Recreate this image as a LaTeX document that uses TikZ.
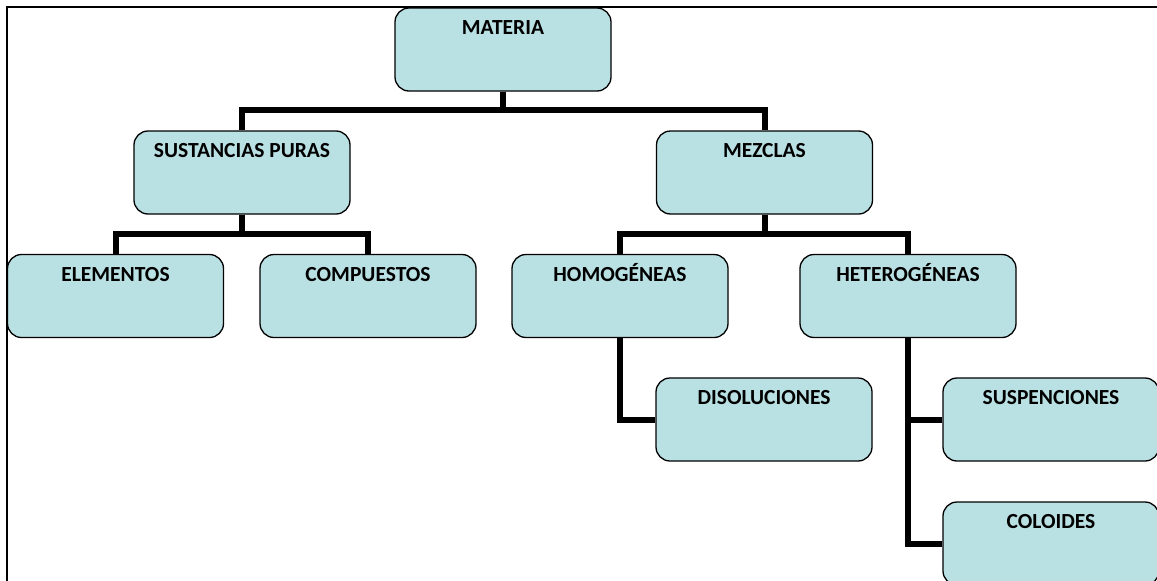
\documentclass[tikz,border=0pt]{standalone}
\usepackage{fontspec}
\setmainfont{Carlito}
\definecolor{boxfill}{RGB}{185,224,227}
\begin{document}
\begin{tikzpicture}[x=1pt,y=-1pt,
  box/.style={draw=black, line width=1.3pt, fill=boxfill, rounded corners=14pt,
    minimum width=216pt, minimum height=83pt, inner sep=0pt},
  lbl/.style={anchor=north, inner sep=0pt, text height=13.2pt, text depth=0pt,
    font=\fontsize{21.5}{24}\selectfont\bfseries, yshift=-14pt},
  conn/.style={draw=black, line width=6pt, line join=miter}]
\useasboundingbox (0,0) rectangle (1157,581);
\clip (0,0) rectangle (1157,581);
\draw[line width=2.2pt] (7,600) -- (7,7) -- (1170,7);
\coordinate (b1) at (0,110);
\coordinate (b2) at (0,234);
\node[box, label={[lbl]north:MATERIA}] (mat) at (503,49.5) {};
\node[box, label={[lbl]north:SUSTANCIAS PURAS}] (sp) at (242,172.5) {};
\node[box, label={[lbl]north:MEZCLAS}] (mez) at (764.5,172.5) {};
\node[box, label={[lbl]north:ELEMENTOS}] (ele) at (115.5,296) {};
\node[box, label={[lbl]north:COMPUESTOS}] (comp) at (368,296) {};
\node[box, label={[lbl]north:HOMOGÉNEAS}] (hom) at (620,296) {};
\node[box, label={[lbl]north:HETEROGÉNEAS}] (het) at (908,296) {};
\node[box, label={[lbl]north:DISOLUCIONES}] (dis) at (764,419.5) {};
\node[box, label={[lbl]north:SUSPENCIONES}] (susp) at (1051,419.5) {};
\node[box, label={[lbl]north:COLOIDES}] (col) at (1051,543.5) {};
\draw[conn] (mat.south) -- (mat.south |- b1);
\draw[conn] (sp.north) -- (sp.north |- b1) -- (mez.north |- b1) -- (mez.north);
\draw[conn] (sp.south) -- (sp.south |- b2);
\draw[conn] (ele.north) -- (ele.north |- b2) -- (comp.north |- b2) -- (comp.north);
\draw[conn] (mez.south) -- (mez.south |- b2);
\draw[conn] (hom.north) -- (hom.north |- b2) -- (het.north |- b2) -- (het.north);
\draw[conn] (hom.south) |- (dis.west);
\draw[conn] (het.south) |- (col.west);
\draw[conn] (het.south |- susp.west) -- (susp.west);
\end{tikzpicture}
\end{document}
